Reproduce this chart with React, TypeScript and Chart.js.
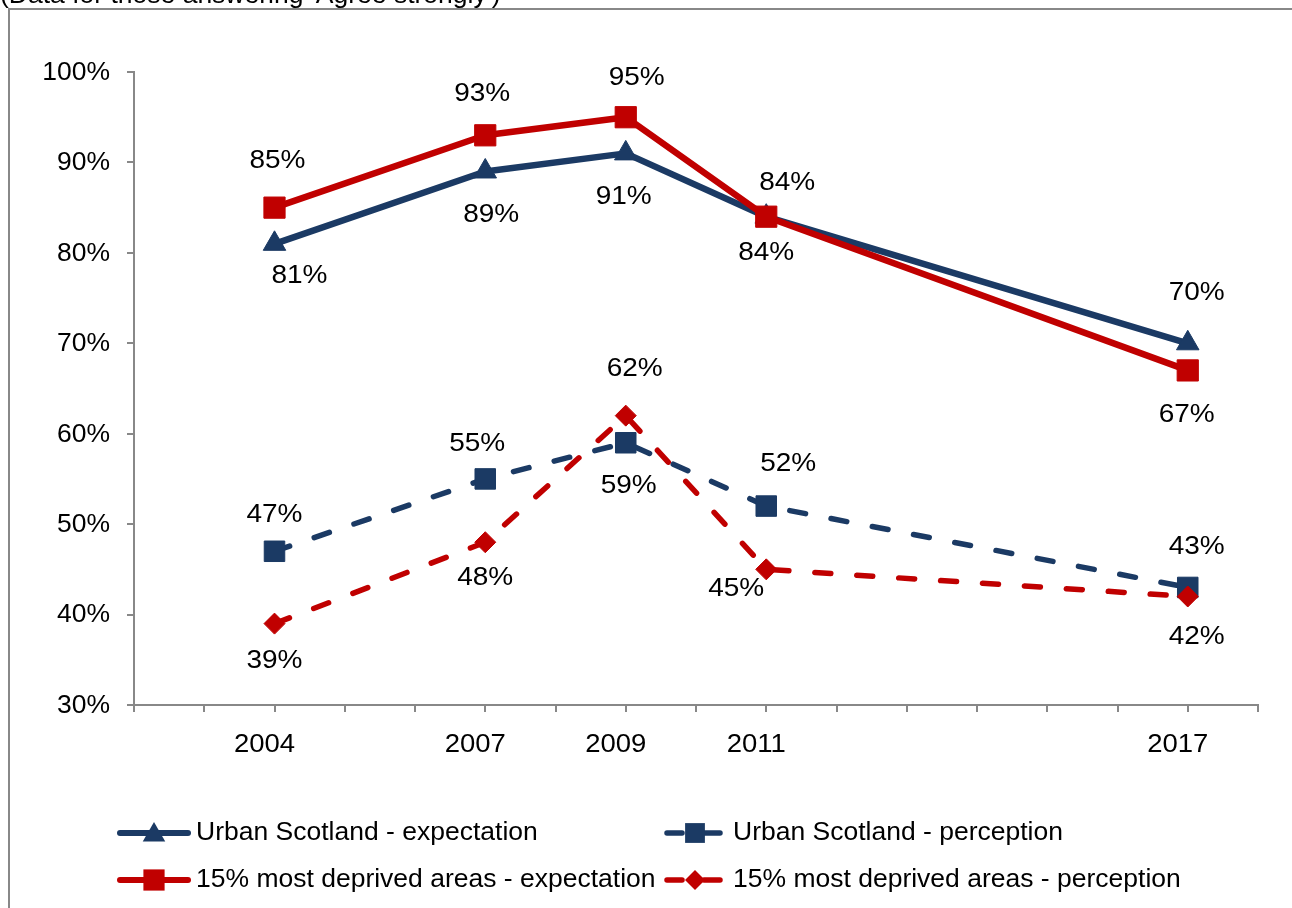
import React, { useEffect, useRef } from 'react';
import { Chart, registerables } from 'chart.js';

Chart.register(...registerables);

// ---------- data ----------
const years = [2004, 2007, 2009, 2011, 2017];
const urbanExpectation = [81, 89, 91, 84, 70];
const urbanPerception = [47, 55, 59, 52, 43];
const deprivedExpectation = [85, 93, 95, 84, 67];
const deprivedPerception = [39, 48, 62, 45, 42];
const yTickValues = [30, 40, 50, 60, 70, 80, 90, 100];
const xMin = 2002;
const xMax = 2018;
const seriesNames = [
  'Urban Scotland - expectation',
  'Urban Scotland - perception',
  '15% most deprived areas - expectation',
  '15% most deprived areas - perception',
];
const titleText = "(Data for those answering 'Agree strongly')";

// ---------- styling ----------
const NAVY = '#1B3A64';
const RED = '#C00000';
const GRAY = '#888888';
const FONT = '"Liberation Sans", Arial, sans-serif';
const FS = 25;
const SX = 1.06;

// label offsets (dx, dy) per series, per point
const labelOffsets: number[][][] = [
  [[25, 32], [6, 44], [-2, 44], [21, -34], [9, -50]],
  [[0, -36], [-8, -35], [3, 43], [22, -42], [9, -40]],
  [[3, -47], [-3, -41], [11, -39], [0, 36], [-1, 45]],
  [[0, 37], [0, 36], [9, -47], [-30, 20], [9, 41]],
];

function drawText(ctx: CanvasRenderingContext2D, text: string, x: number, y: number, align: CanvasTextAlign, baseline: CanvasTextBaseline = 'middle', sx: number = SX) {
  ctx.save();
  ctx.font = `${FS}px ${FONT}`;
  ctx.fillStyle = '#000';
  ctx.textAlign = align;
  ctx.textBaseline = baseline;
  ctx.translate(x, y);
  ctx.scale(sx, 1);
  ctx.fillText(text, 0, 0);
  ctx.restore();
}

function drawMarker(ctx: CanvasRenderingContext2D, style: string, x: number, y: number, r: number, color: string) {
  ctx.save();
  ctx.fillStyle = color;
  ctx.beginPath();
  if (style === 'triangle') {
    ctx.moveTo(x, y - r);
    ctx.lineTo(x + r * 0.866, y + r / 2);
    ctx.lineTo(x - r * 0.866, y + r / 2);
  } else if (style === 'rect') {
    const s = r * Math.SQRT1_2;
    ctx.rect(x - s, y - s, 2 * s, 2 * s);
  } else {
    ctx.moveTo(x, y - r);
    ctx.lineTo(x + r, y);
    ctx.lineTo(x, y + r);
    ctx.lineTo(x - r, y);
  }
  ctx.closePath();
  ctx.fill();
  ctx.restore();
}

const seriesStyles = [
  { color: NAVY, dashed: false, point: 'triangle', radius: 13 },
  { color: NAVY, dashed: true, point: 'rect', radius: 14.5 },
  { color: RED, dashed: false, point: 'rect', radius: 15 },
  { color: RED, dashed: true, point: 'rectRot', radius: 10.5 },
];

const overlayPlugin = {
  id: 'overlay',
  beforeDraw(chart: any) {
    const ctx: CanvasRenderingContext2D = chart.ctx;
    ctx.save();
    ctx.strokeStyle = GRAY;
    ctx.lineWidth = 2;
    ctx.beginPath();
    ctx.moveTo(9, 920);
    ctx.lineTo(9, 9);
    ctx.lineTo(1300, 9);
    ctx.stroke();
    ctx.restore();
    drawText(ctx, titleText, 0, 3, 'left', 'alphabetic');
  },
  afterDatasetsDraw(chart: any) {
    const ctx: CanvasRenderingContext2D = chart.ctx;
    chart.data.datasets.forEach((ds: any, di: number) => {
      const meta = chart.getDatasetMeta(di);
      meta.data.forEach((pt: any, i: number) => {
        const off = labelOffsets[di][i];
        drawText(ctx, `${ds.data[i].y}%`, pt.x + off[0], pt.y + off[1], 'center', 'middle', 1.12);
      });
    });
  },
  afterDraw(chart: any) {
    const ctx: CanvasRenderingContext2D = chart.ctx;
    const xs = chart.scales.x;
    const ys = chart.scales.y;
    yTickValues.forEach((v) => {
      drawText(ctx, `${v}%`, 110, ys.getPixelForValue(v) + 1, 'right');
    });
    years.forEach((yr) => {
      drawText(ctx, String(yr), xs.getPixelForValue(yr) - 10, 745, 'center', 'middle', 1.1);
    });
    // legend
    const items = [
      { x: 118, y: 833 },
      { x: 664, y: 833 },
      { x: 118, y: 880 },
      { x: 664, y: 880 },
    ];
    items.forEach((it, i) => {
      const st = seriesStyles[i];
      ctx.save();
      ctx.strokeStyle = st.color;
      ctx.lineCap = 'round';
      if (!st.dashed) {
        ctx.lineWidth = 6;
        ctx.beginPath();
        ctx.moveTo(it.x + 2, it.y);
        ctx.lineTo(it.x + 70, it.y);
        ctx.stroke();
        ctx.restore();
        drawMarker(ctx, st.point, it.x + 36, it.y + (st.point === 'triangle' ? 2 : 0), st.radius, st.color);
        drawText(ctx, seriesNames[i], it.x + 78, it.y, 'left');
      } else {
        ctx.lineWidth = 5.5;
        ctx.beginPath();
        ctx.moveTo(it.x + 3, it.y);
        ctx.lineTo(it.x + 18, it.y);
        ctx.moveTo(it.x + 40, it.y);
        ctx.lineTo(it.x + 56, it.y);
        ctx.stroke();
        ctx.restore();
        drawMarker(ctx, st.point, it.x + 31, it.y, st.point === 'rect' ? 14 : 10, st.color);
        drawText(ctx, seriesNames[i], it.x + 69, it.y, 'left');
      }
    });
  },
};

export default function App() {
  const ref = useRef<HTMLCanvasElement>(null);
  useEffect(() => {
    if (!ref.current) return;
    const seriesData = [urbanExpectation, urbanPerception, deprivedExpectation, deprivedPerception];
    const chart = new Chart(ref.current, {
      type: 'line',
      data: {
        datasets: seriesData.map((arr, i) => {
          const st = seriesStyles[i];
          return {
            label: seriesNames[i],
            data: years.map((x, j) => ({ x, y: arr[j] })),
            borderColor: st.color,
            backgroundColor: st.color,
            pointBackgroundColor: st.color,
            pointBorderColor: st.color,
            pointBorderWidth: 1,
            borderWidth: st.dashed ? 5.5 : 6.5,
            borderDash: st.dashed ? [16, 26] : [],
            borderCapStyle: st.dashed ? 'round' : 'butt',
            borderJoinStyle: 'round',
            pointStyle: st.point,
            pointRadius: st.radius,
            pointHoverRadius: st.radius,
            tension: 0,
            fill: false,
            order: 4 - i,
          } as any;
        }),
      },
      options: {
        animation: false,
        responsive: false,
        devicePixelRatio: 1,
        events: [],
        layout: { padding: { left: 0, top: 72, right: 34, bottom: 0 } },
        plugins: { legend: { display: false }, tooltip: { enabled: false }, title: { display: false } },
        scales: {
          x: {
            type: 'linear',
            min: xMin,
            max: xMax,
            offset: false,
            ticks: { stepSize: 1, autoSkip: false, color: 'rgba(0,0,0,0)', font: { size: 10 } },
            grid: { drawOnChartArea: false, drawTicks: true, tickLength: 7, color: GRAY, lineWidth: 2 },
            border: { display: true, color: GRAY, width: 2 },
            afterFit: (s: any) => { s.height = 908 - 705; },
          },
          y: {
            type: 'linear',
            min: 30,
            max: 100,
            ticks: { stepSize: 10, autoSkip: false, color: 'rgba(0,0,0,0)', font: { size: 10 } },
            grid: { drawOnChartArea: false, drawTicks: true, tickLength: 7, color: GRAY, lineWidth: 2 },
            border: { display: true, color: GRAY, width: 2 },
            afterFit: (s: any) => { s.width = 134; },
          },
        },
      },
      plugins: [overlayPlugin],
    });
    return () => chart.destroy();
  }, []);
  return (
    <div style={{ position: 'fixed', left: 0, top: 0, width: 1292, height: 908, background: '#fff' }}>
      <canvas ref={ref} width={1292} height={908} style={{ display: 'block', width: 1292, height: 908 }} />
    </div>
  );
}
